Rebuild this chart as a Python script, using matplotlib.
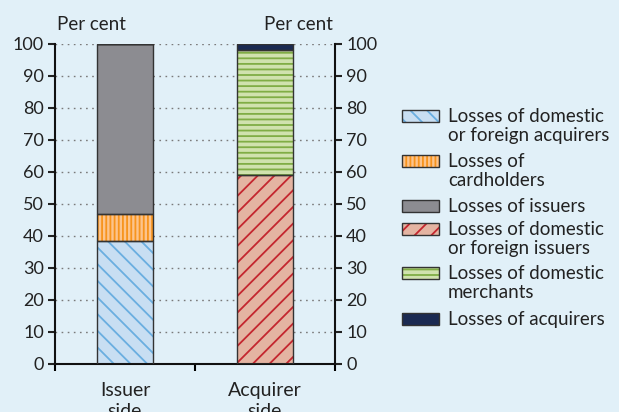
import matplotlib
matplotlib.use("Agg")
import matplotlib.pyplot as plt
from matplotlib.patches import Rectangle

# data (per cent)
sides = ["Issuer\nside", "Acquirer\nside"]
series = [
    "Losses of domestic\nor foreign acquirers",
    "Losses of\ncardholders",
    "Losses of issuers",
    "Losses of domestic\nor foreign issuers",
    "Losses of domestic\nmerchants",
    "Losses of acquirers",
]
issuer_vals = [38.5, 8.5, 53.0, 0, 0, 0]
acquirer_vals = [0, 0, 0, 59.2, 38.8, 2.0]

fills = ["#c8def2", "#fcc48c", "#8c8c91", "#e4b4a2", "#d0e2ae", "#1b2a52"]
hcols = ["#6aaee0", "#f7941d", "#8c8c91", "#c4262f", "#80ad45", "#1b2a52"]
hatches = ["\\\\", "||||", None, "//", "---", None]

bg = "#e1f0f8"
txt = "#222222"
plt.rcParams["font.family"] = ["Lato", "DejaVu Sans"]
plt.rcParams["hatch.linewidth"] = 1.3

W, H = 619, 412
fig = plt.figure(figsize=(W / 100, H / 100), dpi=100, facecolor=bg)
ax = fig.add_axes([55 / W, (H - 364) / H, 280 / W, 320 / H])
ax.set_facecolor(bg)

x = [0, 1]
bw = 0.4
bottoms = [0, 0]
for i in range(len(series)):
    vals = [issuer_vals[i], acquirer_vals[i]]
    ax.bar(x, vals, bw, bottom=bottoms, color=fills[i], hatch=hatches[i],
           edgecolor=hcols[i], linewidth=0, zorder=2)
    ax.bar(x, vals, bw, bottom=bottoms, fill=False, edgecolor="#333333",
           linewidth=1, zorder=3)
    bottoms = [bottoms[0] + vals[0], bottoms[1] + vals[1]]

ax.set_xlim(-0.5, 1.5)
ax.set_ylim(0, 100)
ax.set_yticks(range(0, 101, 10))
ax.set_xticks([-0.5, 0.5, 1.5])
ax.set_xticklabels([])
ax.set_xticks(x, minor=True)
ax.set_xticklabels(sides, minor=True, linespacing=1.25)
ax.tick_params(axis="x", which="minor", length=0, pad=13, labelsize=14, colors=txt)
ax.tick_params(axis="x", which="major", length=5, width=1.5, direction="out")
ax.tick_params(axis="y", length=5, width=1.5, direction="out", labelsize=13,
               colors=txt, right=True, labelright=True, pad=3)
ax.yaxis.grid(True, linestyle=(0, (1.2, 3.2)), color="#7a7a7a", linewidth=1, zorder=1)
ax.set_axisbelow(True)
ax.spines["top"].set_visible(False)
for s in ["left", "right", "bottom"]:
    ax.spines[s].set_linewidth(1.5)
    ax.spines[s].set_color("#111111")

fig.text(57 / W, 1 - 25 / H, "Per cent", ha="left", va="center", fontsize=13.5, color=txt)
fig.text(333 / W, 1 - 25 / H, "Per cent", ha="right", va="center", fontsize=13.5, color=txt)

# legend drawn in pixel coordinates
lax = fig.add_axes([0, 0, 1, 1], facecolor="none")
lax.set_xlim(0, W)
lax.set_ylim(H, 0)
lax.axis("off")
ys = [116, 161, 206, 229, 273, 319]
for i, lab in enumerate(series):
    lax.add_patch(Rectangle((402, ys[i] - 6), 37, 12, facecolor=fills[i], hatch=hatches[i],
                            edgecolor=hcols[i], linewidth=0))
    lax.add_patch(Rectangle((402, ys[i] - 6), 37, 12, fill=False, edgecolor="#333333", linewidth=1))
    lax.text(448, ys[i] - 8, lab, ha="left", va="top", fontsize=13.5, color=txt,
             linespacing=1.15)

fig.savefig("out.png", dpi=100, facecolor=bg)
